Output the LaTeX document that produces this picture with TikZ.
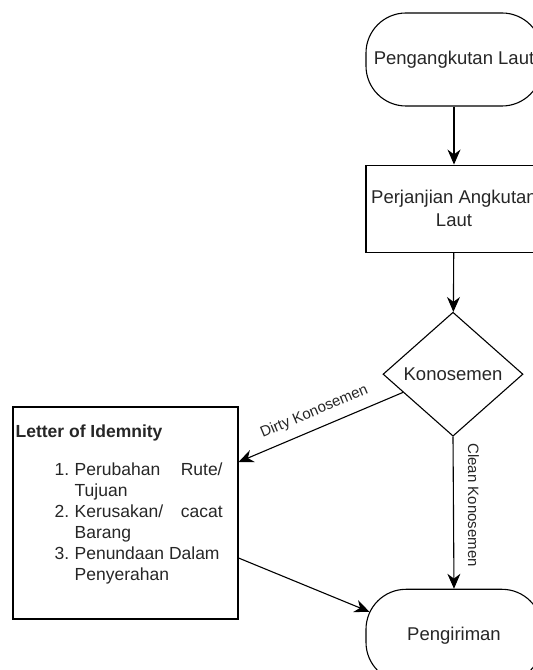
\documentclass[tikz,border=0pt]{standalone}
\usepackage{fontspec}
\setmainfont{Liberation Sans}
\usetikzlibrary{positioning,shapes.geometric,arrows.meta}

\begin{document}
\begin{tikzpicture}[x=1pt,y=1pt,
    every node/.append style={font=\fontsize{18.5}{23}\selectfont,text=black!85},
    terminal/.style={draw,rounded corners=40pt,minimum width=176pt,minimum height=93pt,line width=1.1pt},
    process/.style={draw,minimum width=176pt,minimum height=87pt,align=center,line width=1.1pt},
    decision/.style={draw,diamond,aspect=1.13,inner sep=0pt,minimum width=140pt,minimum height=124pt,line width=1.1pt},
    notebox/.style={draw,minimum width=225pt,minimum height=212pt,line width=1.1pt},
    flow/.style={-{Stealth[length=15pt,width=13pt]},line width=1.1pt},
    edgelabel/.style={font=\fontsize{15}{18}\selectfont}] %
    \useasboundingbox (0,0) rectangle (533,670); %
    \node[terminal] (laut) at (454,610.5) {Pengangkutan Laut}; %
    \node[process, below=58pt of laut] (janji) {Perjanjian Angkutan\\Laut}; %
    \node[decision, below=59pt of janji, xshift=-1pt] (konos) {Konosemen}; %
    \node[terminal, below=152pt of konos, xshift=1pt] (kirim) {Pengiriman}; %
    \node[notebox] (letter) at (125.5,157) {}; %
    \node[anchor=north west, inner sep=0pt, align=left, font=\fontsize{17.5}{21}\selectfont]
      (letterTxt) at ([xshift=3pt,yshift=-18pt]letter.north west)
      {\textbf{Letter of Idemnity}\\[17pt]
       \hspace*{39pt}\begin{tabular}[t]{@{}l@{}p{148pt}@{}}
         \makebox[20pt][l]{1.} & Perubahan\hfill Rute/\newline Tujuan\\
         \makebox[20pt][l]{2.} & Kerusakan/\hfill cacat\newline Barang\\
         \makebox[20pt][l]{3.} & Penundaan Dalam\newline Penyerahan
       \end{tabular}};
    \draw[flow] (laut) -- (janji);
    \draw[flow] (janji) -- (konos);
    \draw[flow] (konos.200) -- node[edgelabel, midway, sloped, above, inner sep=9pt] {Dirty Konosemen} ([yshift=51pt]letter.east);
    \draw[flow] (konos.south) -- node[edgelabel, pos=0.45, rotate=-90, anchor=south, inner sep=14pt] {Clean Konosemen} (kirim.north);
    \draw[flow] ([yshift=-45pt]letter.east) -- ([xshift=4pt,yshift=24pt]kirim.west);
  \end{tikzpicture}
\end{document}
